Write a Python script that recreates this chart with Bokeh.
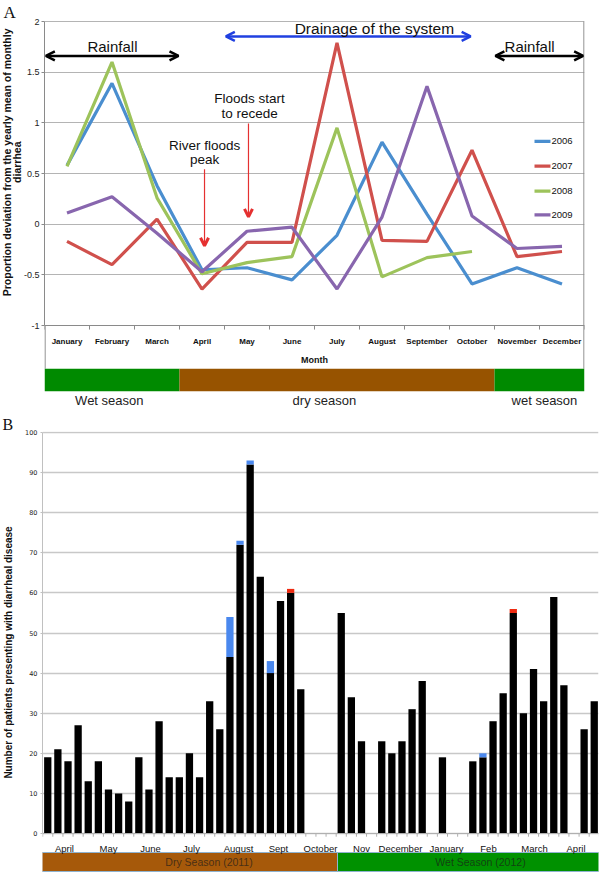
import numpy as np
from bokeh.plotting import figure
from bokeh.models import Range1d, FixedTicker, LinearAxis, Label, Arrow, OpenHead, Title
from bokeh.layouts import column
from bokeh.embed import file_html
from bokeh.resources import INLINE
from bokeh.core.properties import value

# ---------------- Panel A data ----------------
months = ["January", "February", "March", "April", "May", "June", "July",
          "August", "September", "October", "November", "December"]
years = ["2006", "2007", "2008", "2009"]
dev_2006 = [0.58, 1.39, 0.38, -0.45, -0.43, -0.55, -0.11, 0.81, 0.10, -0.59, -0.43, -0.59]
dev_2007 = [-0.17, -0.40, 0.05, -0.64, -0.18, -0.18, 1.79, -0.16, -0.17, 0.73, -0.32, -0.27]
dev_2008 = [0.57, 1.60, 0.26, -0.49, -0.38, -0.32, 0.95, -0.52, -0.33, -0.27, None, None]
dev_2009 = [0.11, 0.27, -0.09, -0.47, -0.07, -0.03, -0.64, 0.07, 1.36, 0.08, -0.24, -0.22]
year_colors = ["#4A8ECF", "#D0504C", "#9DC35B", "#8866AE"]
y_ticks_a = [-1, -0.5, 0, 0.5, 1, 1.5, 2]
y_tick_labels_a = ["-1", "-0.5", "0", "0.5", "1", "1.5", "2"]

season_a_names = ["Wet season", "dry season", "wet season"]
season_a_start = [0.5, 3.5, 10.5]
season_a_end = [3.5, 10.5, 12.5]
season_a_colors = ["#008A00", "#975300", "#008A00"]

# ---------------- Panel B data ----------------
weekly_base = [19, 21, 18, 27, 13, 18, 11, 10, 8, 19, 11, 28, 14, 14, 20, 14, 33, 26,
               44, 72, 92, 64, 40, 58, 60, 36, 0, 0, 0, 55, 34, 23, 0, 23, 20, 23, 31, 38,
               0, 19, 0, 0, 18, 19, 28, 35, 55, 30, 41, 33, 59, 37, 0, 26, 33]
weekly_blue = [0] * 18 + [10, 1, 1, 0, 3] + [0] * 20 + [1] + [0] * 11
weekly_red = [0] * 24 + [1] + [0] * 21 + [1] + [0] * 8
y_ticks_b = list(range(0, 101, 10))
month_labels_b = ["April", "May", "June", "July", "August", "Sept", "October",
                  "Nov", "December", "January", "Feb", "March", "April"]
month_pos_b = [1.65, 6.0, 10.15, 14.2, 18.85, 22.8, 26.95, 31.0, 34.85, 39.4, 43.55, 48.1, 52.2]
season_b_names = ["Dry Season  (2011)", "Wet Season (2012)"]
season_b_colors = ["#A6590A", "#009100"]

FONT = "Liberation Sans"

# =============== Panel A ===============
# frame top at 20 px; value 2 at 21 px, -1 at 325 px
pA = figure(width=600, height=410, x_range=Range1d(0.5, 12.5), y_range=Range1d(-1.8388, 2.00987),
            x_axis_location=None, output_backend="svg", toolbar_location=None,
            min_border_left=44, min_border_right=16, min_border_top=20, min_border_bottom=0,
            frame_align=False, title="A")
pA.title.align = "left"
pA.title.offset = -41
pA.title.standoff = -3
pA.title.text_font = "Liberation Serif"
pA.title.text_font_size = "17px"
pA.title.text_font_style = "normal"
pA.title.text_color = "#111111"
pA.outline_line_color = None
pA.xgrid.visible = False
yt = FixedTicker(ticks=y_ticks_a)
pA.yaxis.ticker = yt
pA.ygrid.ticker = yt
pA.ygrid.grid_line_color = "#b4b4b4"
pA.ygrid.grid_line_width = 1.2
pA.yaxis.bounds = (-1, 2)
pA.yaxis.axis_line_color = "#8a8a8a"
pA.yaxis.major_tick_line_color = "#8a8a8a"
pA.yaxis.major_tick_out = 3
pA.yaxis.major_tick_in = 0
pA.yaxis.minor_tick_line_color = None
pA.yaxis.major_label_text_font = FONT
pA.yaxis.major_label_text_font_size = "9px"
pA.yaxis.major_label_text_color = "#222222"
pA.yaxis.major_label_standoff = 2
pA.yaxis.major_label_overrides = dict(zip(y_ticks_a, y_tick_labels_a))

# value-axis title, two lines, as left-side titles
ylab_style = dict(text_font=FONT, text_font_size="10.5px", text_font_style="bold",
                  text_color="#111111", align="right", standoff=-4)
pA.add_layout(Title(text="diarrhea", offset=121, **ylab_style), "left")
pA.add_layout(Title(text="Proportion deviation from the yearly mean of monthly", offset=8, **ylab_style), "left")

month_idx = list(range(1, len(months) + 1))
for vals, col in zip([dev_2006, dev_2007, dev_2008, dev_2009], year_colors):
    xs = [m for m, v in zip(month_idx, vals) if v is not None]
    ys = [v for v in vals if v is not None]
    pA.line(xs, ys, line_color=col, line_width=3.2)

# chart-area border lines (right side, and left side below the value axis)
pA.segment(x0=[12.488, 0.512], y0=[-1.426, -1.426], x1=[12.488, 0.512], y1=[2.0, -1.0],
           line_color="#8a8a8a", line_width=1.2)
# category boundary tick marks under the month axis
bnd_a = [0.5 + i for i in range(13)]
pA.segment(x0=bnd_a, y0=[-1.0] * 13, x1=bnd_a, y1=[-1.04] * 13, line_color="#8a8a8a", line_width=1)

axA_lab = LinearAxis(fixed_location=-1, ticker=FixedTicker(ticks=month_idx),
                     major_label_overrides=dict(zip(month_idx, months)),
                     major_tick_line_color=None, major_tick_out=0, major_tick_in=0,
                     minor_tick_line_color=None, minor_tick_out=0,
                     axis_line_color="#8a8a8a", axis_line_width=1.2,
                     major_label_text_font=FONT, major_label_text_font_size="8px",
                     major_label_text_font_style="bold", major_label_text_color="#111111",
                     major_label_standoff=11,
                     axis_label="Month", axis_label_text_font=FONT, axis_label_text_font_size="9px",
                     axis_label_text_font_style="bold", axis_label_text_color="#111111",
                     axis_label_standoff=6)
pA.add_layout(axA_lab, "below")

# season band
pA.quad(left=season_a_start, right=season_a_end, bottom=-1.648, top=-1.426,
        fill_color=season_a_colors, line_color=None)
pA.text(x=[1.94, 6.72, 11.61], y=[-1.74, -1.74, -1.74], text=season_a_names,
        text_font=value(FONT), text_font_size="13px", text_align="center",
        text_baseline="middle", text_color="#222222")

# legend
leg_y = [0.817, 0.572, 0.327, 0.091]
pA.segment(x0=[11.389] * 4, y0=leg_y, x1=[11.744] * 4, y1=leg_y, line_color=year_colors, line_width=3.2)
pA.text(x=[11.767] * 4, y=leg_y, text=years, text_font=value(FONT), text_font_size="9.5px",
        text_align="left", text_baseline="middle", text_color="#111111")


def lab(p, x, y, t, size):
    p.add_layout(Label(x=x, y=y, text=t, text_font=FONT, text_font_size=size,
                       text_align="center", text_baseline="middle", text_color="#111111"))


head = dict(size=9, line_width=2.5)
pA.add_layout(Arrow(start=OpenHead(line_color="black", **head), end=OpenHead(line_color="black", **head),
                    x_start=0.53, y_start=1.66, x_end=3.478, y_end=1.66,
                    line_color="black", line_width=2.5))
pA.add_layout(Arrow(start=OpenHead(line_color="black", **head), end=OpenHead(line_color="black", **head),
                    x_start=10.52, y_start=1.66, x_end=12.47, y_end=1.66,
                    line_color="black", line_width=2.5))
pA.add_layout(Arrow(start=OpenHead(line_color="#2040E0", **head), end=OpenHead(line_color="#2040E0", **head),
                    x_start=4.53, y_start=1.853, x_end=9.97, y_end=1.853,
                    line_color="#2040E0", line_width=2.5))
lab(pA, 2.01, 1.75, "Rainfall", "15px")
lab(pA, 11.28, 1.75, "Rainfall", "15px")
lab(pA, 7.83, 1.93, "Drainage of the system", "15.5px")
lab(pA, 5.056, 1.241, "Floods start", "13.5px")
lab(pA, 5.056, 1.094, "to recede", "13.5px")
lab(pA, 4.056, 0.778, "River floods", "13.5px")
lab(pA, 4.056, 0.64, "peak", "13.5px")
pA.add_layout(Arrow(end=OpenHead(size=8, line_width=3, line_color="#E53030"),
                    x_start=5.033, y_start=0.993, x_end=5.033, y_end=0.072,
                    line_color="#E53030", line_width=1.2))
pA.add_layout(Arrow(end=OpenHead(size=8, line_width=3, line_color="#E53030"),
                    x_start=4.056, y_start=0.542, x_end=4.056, y_end=-0.213,
                    line_color="#E53030", line_width=1.2))

# =============== Panel B ===============
nslots = len(weekly_base)
slots = list(range(nslots))
pB = figure(width=600, height=463, x_range=Range1d(-0.52, 54.42), y_range=Range1d(-9.975, 100.25),
            x_axis_location=None, output_backend="svg", toolbar_location=None,
            min_border_left=42, min_border_right=2, min_border_top=21, min_border_bottom=0,
            frame_align=False, title="B")
pB.title.align = "left"
pB.title.offset = -40
pB.title.standoff = -2
pB.title.text_font = "Liberation Serif"
pB.title.text_font_size = "16px"
pB.title.text_font_style = "normal"
pB.title.text_color = "#111111"
pB.outline_line_color = None
pB.xgrid.visible = False
ytb = FixedTicker(ticks=y_ticks_b)
pB.yaxis.ticker = ytb
pB.ygrid.ticker = ytb
pB.ygrid.grid_line_color = "#c8c8c8"
pB.ygrid.grid_line_width = 1.4
pB.yaxis.bounds = (0, 100)
pB.yaxis.axis_line_color = "#c0c0c0"
pB.yaxis.major_tick_line_color = "#c0c0c0"
pB.yaxis.major_tick_out = 2
pB.yaxis.major_tick_in = 0
pB.yaxis.minor_tick_line_color = None
pB.yaxis.major_label_text_font = "DejaVu Sans"
pB.yaxis.major_label_text_font_size = "6.5px"
pB.yaxis.major_label_text_color = "#222222"
pB.yaxis.major_label_standoff = 3
pB.yaxis.axis_label = "Number of patients presenting with diarrheal disease"
pB.yaxis.axis_label_text_font = FONT
pB.yaxis.axis_label_text_font_size = "10px"
pB.yaxis.axis_label_text_font_style = "bold"
pB.yaxis.axis_label_text_color = "#111111"
pB.yaxis.axis_label_standoff = 8

base = np.array(weekly_base, dtype=float)
blue = np.array(weekly_blue, dtype=float)
red = np.array(weekly_red, dtype=float)
pB.vbar(x=slots, width=0.72, bottom=0, top=base, fill_color="black", line_color=None)
pB.vbar(x=slots, width=0.72, bottom=base, top=base + blue, fill_color="#4A88EE", line_color=None)
pB.vbar(x=slots, width=0.72, bottom=base + blue, top=base + blue + red, fill_color="#EE2A10", line_color=None)

bnd_b = [i - 0.5 for i in range(nslots + 1)]
pB.segment(x0=bnd_b, y0=[0] * len(bnd_b), x1=bnd_b, y1=[-0.8] * len(bnd_b),
           line_color="#b0b0b0", line_width=1)

axB_lab = LinearAxis(fixed_location=0, ticker=FixedTicker(ticks=month_pos_b),
                     major_label_overrides=dict(zip(month_pos_b, month_labels_b)),
                     major_tick_line_color=None, major_tick_out=0, major_tick_in=0,
                     minor_tick_line_color=None, minor_tick_out=0,
                     axis_line_color="#b0b0b0", axis_line_width=1.2,
                     major_label_text_font=FONT, major_label_text_font_size="9.5px",
                     major_label_text_color="#111111", major_label_standoff=9)
pB.add_layout(axB_lab, "below")

pB.quad(left=[-0.6, 28.63], right=[28.63, 54.5], bottom=-9.48, top=-4.74,
        fill_color=season_b_colors, line_color="#8fb3d0", line_width=1)
pB.text(x=[16.08, 42.76], y=[-7.1, -7.1], text=season_b_names, text_font=value(FONT),
        text_font_size="10.5px", text_align="center", text_baseline="middle",
        text_color="#1a1a1a", text_alpha=0.7)

layout = column(pA, pB, spacing=0)
open("out.html", "w").write(file_html(layout, INLINE))
